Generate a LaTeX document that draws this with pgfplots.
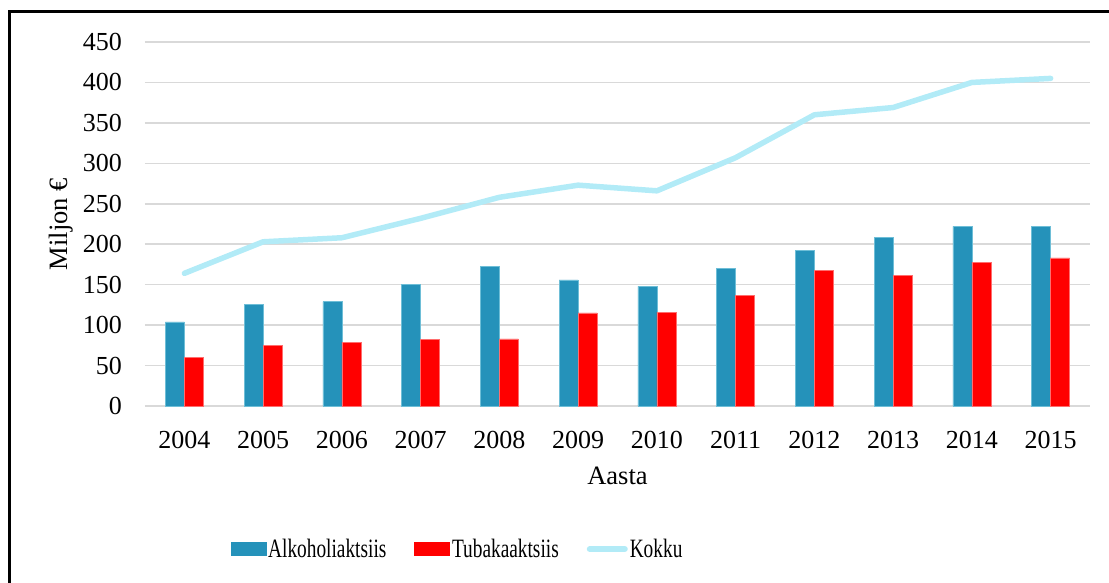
\documentclass[border=0pt]{standalone}
\usepackage{fontspec}
\setmainfont{Liberation Serif}
\usepackage{graphicx}
\usepackage{pgfplots}
\pgfplotsset{compat=1.18}
\definecolor{alkblue}{RGB}{37,146,186}
\definecolor{alkedge}{RGB}{110,190,215}
\definecolor{tubred}{RGB}{255,0,0}
\definecolor{tubedge}{RGB}{255,110,110}
\definecolor{kokku}{RGB}{178,235,247}
\definecolor{gridgray}{RGB}{217,217,217}
\newcommand{\leg}[1]{\scalebox{0.73}[1]{#1}}
\begin{document}
\begin{tikzpicture}
\begin{axis}[
  at={(0bp,0bp)}, anchor=south west,
  scale only axis, width=945bp, height=364bp,
  xmin=-0.5, xmax=11.5, ymin=0, ymax=450,
  xtick={0,...,11},
  xticklabels={2004,2005,2006,2007,2008,2009,2010,2011,2012,2013,2014,2015},
  ytick={0,50,...,450},
  /pgf/number format/assume math mode=true,
  axis line style={draw=none},
  major tick length=0pt,
  ymajorgrids, grid style={gridgray, line width=1.6bp},
  tick label style={font=\fontsize{26bp}{30bp}\selectfont},
  xticklabel style={anchor=base, inner sep=0pt, yshift=-42.3bp},
  yticklabel style={anchor=east, inner sep=0pt, xshift=-23bp},
  label style={font=\fontsize{26.5bp}{31bp}\selectfont},
  xlabel={Aasta},
  xlabel style={at={(axis description cs:0.5,-0.217)}, anchor=base},
  ylabel={Miljon €},
  ylabel style={at={(axis description cs:-0.0825,0.5)}, anchor=base, rotate=0},
  legend columns=3,
  legend style={draw=none, fill=none, font=\fontsize{26.5bp}{31bp}\selectfont,
    at={(axis description cs:0.3307,-0.393)}, anchor=center,
    nodes={inner sep=2bp},
    /tikz/every even column/.append style={column sep=26bp}},
]
\addplot[ybar, bar width=19bp, bar shift=-9.5bp, fill=alkblue, draw=alkedge, line width=0.6bp,
  legend image code/.code={\fill[alkblue] (0bp,-6.5bp) rectangle (35bp,6.5bp);}]
  coordinates {(0,104) (1,126) (2,129) (3,150) (4,173) (5,156) (6,148) (7,170) (8,192) (9,208) (10,222) (11,222)};
\addlegendentry{\leg{Alkoholiaktsiis}}
\addplot[ybar, bar width=19bp, bar shift=9.5bp, fill=tubred, draw=tubedge, line width=0.6bp,
  legend image code/.code={\fill[tubred] (0bp,-6.5bp) rectangle (35bp,6.5bp);}]
  coordinates {(0,60) (1,75) (2,79) (3,82) (4,83) (5,115) (6,116) (7,137) (8,168) (9,161) (10,178) (11,183)};
\addlegendentry{\leg{Tubakaaktsiis}}
\addplot[sharp plot, no marks, kokku, line width=5.5bp, line cap=round, line join=round,
  legend image code/.code={\draw[kokku, line width=6bp, line cap=round] (1bp,0bp) -- (36bp,0bp);}]
  coordinates {(0,164) (1,203) (2,208) (3,232) (4,258) (5,273) (6,266) (7,307) (8,360) (9,369) (10,400) (11,405)};
\addlegendentry{\leg{Kokku}}
\end{axis}
\draw[line width=2.5bp, black] (-135.5bp,-294bp) -- (-135.5bp,394.5bp) -- (1155bp,394.5bp);
\pgfresetboundingbox
\useasboundingbox (-145bp,406bp) rectangle (964bp,-177bp);
\end{tikzpicture}
\end{document}
